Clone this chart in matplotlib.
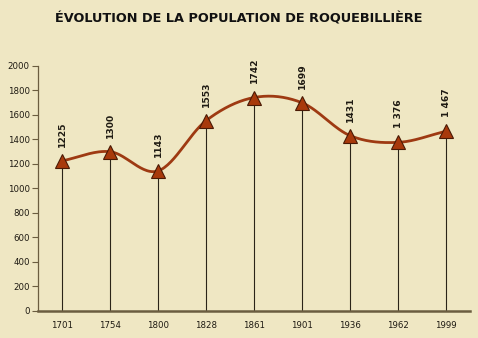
import matplotlib
matplotlib.use("Agg")
from matplotlib import pyplot as plt
import numpy as np

years = ["1701", "1754", "1800", "1828", "1861", "1901", "1936", "1962", "1999"]
population = [1225, 1300, 1143, 1553, 1742, 1699, 1431, 1376, 1467]
value_labels = ["1225", "1300", "1143", "1553", "1742", "1699", "1431", "1 376", "1 467"]
y_ticks = list(range(0, 2001, 200))

BG = "#efe7c3"
LINE = "#9e3a12"
AXIS = "#6b5d40"


def catmull_rom(x, y, steps=30):
    """Smooth curve through the points (Catmull-Rom spline)."""
    px = np.concatenate([[2 * x[0] - x[1]], x, [2 * x[-1] - x[-2]]])
    py = np.concatenate([[2 * y[0] - y[1]], y, [2 * y[-1] - y[-2]]])
    out_x, out_y = [], []
    t = np.linspace(0, 1, steps, endpoint=False)
    for i in range(1, len(px) - 2):
        for p, out in ((px, out_x), (py, out_y)):
            p0, p1, p2, p3 = p[i - 1], p[i], p[i + 1], p[i + 2]
            out.extend(0.5 * (2 * p1 + (-p0 + p2) * t
                              + (2 * p0 - 5 * p1 + 4 * p2 - p3) * t ** 2
                              + (-p0 + 3 * p1 - 3 * p2 + p3) * t ** 3))
    out_x.append(x[-1])
    out_y.append(y[-1])
    return np.array(out_x), np.array(out_y)


fig = plt.figure(figsize=(4.78, 3.38), dpi=100)
fig.patch.set_facecolor(BG)
ax = fig.add_axes([0.0795, 0.080, 0.904, 0.725])
ax.set_facecolor(BG)

x = np.arange(len(years), dtype=float)
y = np.array(population, dtype=float)

# drop lines from each point to the axis
ax.vlines(x, 0, y, color="#2a2418", linewidth=0.8, zorder=1)

sx, sy = catmull_rom(x, y)
ax.plot(sx, sy, color=LINE, linewidth=2.0, zorder=2, solid_capstyle="round")
ax.plot(x, y, linestyle="none", marker="^", markersize=9.5,
        markerfacecolor="#a8390b", markeredgecolor="#4a1a05", markeredgewidth=0.8, zorder=3)

for xi, yi, lab in zip(x, y, value_labels):
    ax.text(xi, yi + 115, lab, rotation=90, ha="center", va="bottom",
            fontsize=6.6, fontweight="bold", color="#1e1a12")

ax.set_xlim(-0.5, len(years) - 0.5)
ax.set_ylim(0, 2000)
ax.set_xticks(x)
ax.set_xticklabels(years)
ax.set_yticks(y_ticks)
ax.tick_params(axis="x", length=0, pad=7, labelsize=6.2, labelcolor="#1e1a12")
ax.tick_params(axis="y", length=4, width=0.8, color=AXIS, pad=2, labelsize=6.2,
               labelcolor="#1e1a12", direction="out")

for side in ("top", "right"):
    ax.spines[side].set_visible(False)
ax.spines["left"].set_color(AXIS)
ax.spines["left"].set_linewidth(0.9)
ax.spines["bottom"].set_color(AXIS)
ax.spines["bottom"].set_linewidth(1.8)

fig.text(0.5, 0.945, "ÉVOLUTION DE LA POPULATION DE ROQUEBILLIÈRE",
         ha="center", va="center", fontsize=9.3, fontweight="bold", color="#111111")

fig.savefig("out.png", dpi=100, facecolor=BG)
